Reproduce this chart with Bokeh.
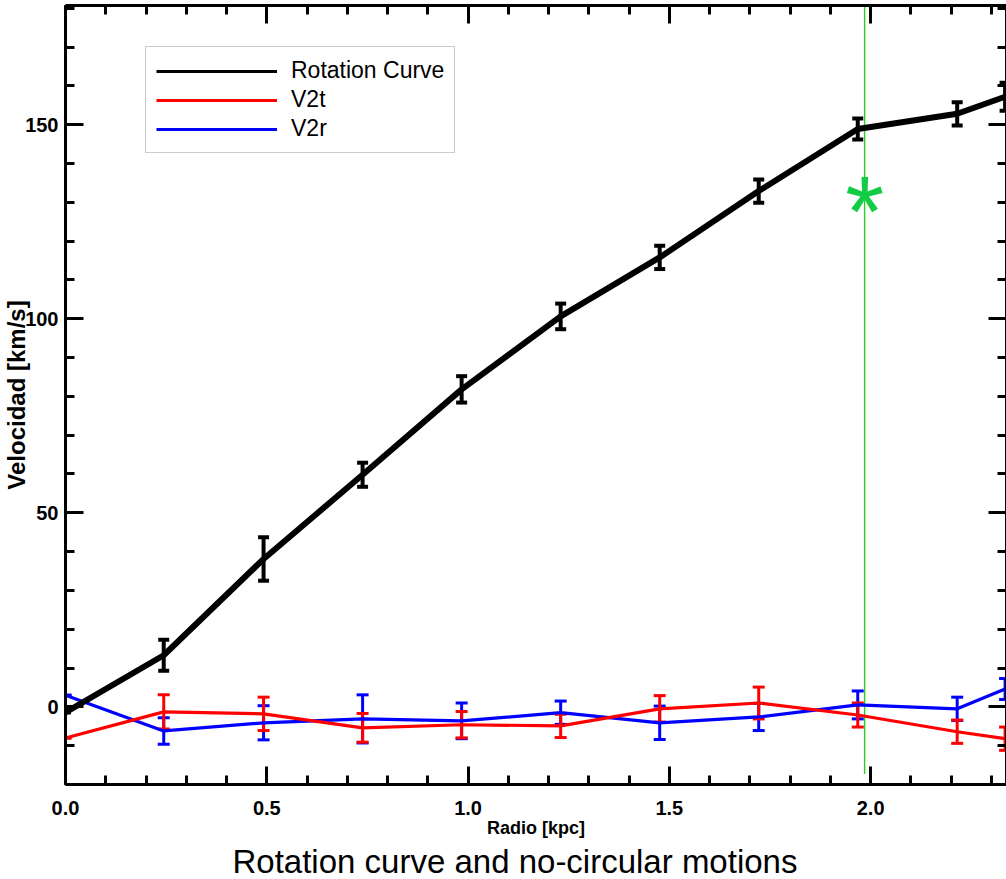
from bokeh.plotting import figure
from bokeh.models import (ColumnDataSource, Whisker, TeeHead, LinearAxis, Range1d,
                          SingleIntervalTicker, PrintfTickFormatter, Title, Legend, LegendItem,
                          CustomJSTickFormatter)
from bokeh.core.properties import value
from bokeh.embed import file_html
from bokeh.resources import INLINE

# ---------------- data ----------------
radius = [0.0, 0.244, 0.492, 0.738, 0.984, 1.230, 1.476, 1.722, 1.968, 2.215, 2.334]
rot_curve = [-1.4, 13.3, 38.1, 59.8, 81.8, 100.6, 115.8, 132.9, 148.9, 152.8, 157.2]
rot_err = [0.0, 4.0, 5.6, 3.1, 3.4, 3.3, 3.0, 3.0, 2.7, 3.0, 3.6]
v2t = [-8.0, -1.3, -1.8, -5.4, -4.6, -4.9, -0.5, 1.0, -2.1, -6.4, -8.2]
v2t_err = [0.0, 4.4, 4.3, 3.7, 3.4, 3.0, 3.4, 4.1, 3.1, 3.0, 3.0]
v2r = [3.0, -6.2, -4.1, -3.1, -3.6, -1.5, -4.1, -2.6, 0.5, -0.5, 4.6]
v2r_err = [0.0, 3.4, 4.4, 6.2, 4.6, 3.0, 4.3, 3.5, 3.6, 3.0, 2.7]

marker_line_x = [1.985, 1.985]
marker_line_y = [-17.3, 190.0]
star_x = [1.985]
star_y = [131.0]

series_names = ["Rotation Curve", "V2t", "V2r"]
x_ticks_interval = 0.5
y_ticks_interval = 50

title_text = "Rotation curve and no-circular motions"
xlabel = "Radio [kpc]"
ylabel = "Velocidad [km/s]"

# ---------------- figure ----------------
p = figure(width=1006, height=879, output_backend="svg", toolbar_location=None,
           x_range=Range1d(0.0, 2.3375), y_range=Range1d(-20.0, 180.7),
           min_border_left=0, min_border_right=0, min_border_top=5, min_border_bottom=0,
           title=None)
p.outline_line_color = None
p.grid.visible = False
p.background_fill_color = "white"
p.border_fill_color = "white"

def style_axis(ax, labels=True):
    ax.axis_line_width = 3
    ax.axis_line_color = "black"
    ax.major_tick_in = 18
    ax.major_tick_out = 0
    ax.minor_tick_in = 9
    ax.minor_tick_out = 0
    ax.major_tick_line_width = 3
    ax.minor_tick_line_width = 3
    ax.major_tick_line_color = "black"
    ax.minor_tick_line_color = "black"
    if labels:
        ax.major_label_text_font = "Liberation Sans"
        ax.major_label_text_font_style = "bold"
        ax.major_label_text_font_size = "20px"
        ax.major_label_text_color = "black"
        ax.axis_label_text_font = "Liberation Sans"
        ax.axis_label_text_font_style = "bold"
        ax.axis_label_text_font_size = "18px"
        ax.axis_label_text_color = "black"
    else:
        ax.formatter = CustomJSTickFormatter(code="return '';")
        ax.major_label_standoff = 0

p.xaxis.ticker = SingleIntervalTicker(interval=x_ticks_interval, num_minor_ticks=5)
p.xaxis.formatter = PrintfTickFormatter(format="%.1f")
p.xaxis.axis_label = xlabel
p.yaxis.ticker = SingleIntervalTicker(interval=y_ticks_interval, num_minor_ticks=5)
p.yaxis.axis_label = ylabel
for ax in p.xaxis:
    style_axis(ax)
    ax.major_label_standoff = 16
    ax.axis_label_standoff = 0
for ax in p.yaxis:
    style_axis(ax)
    ax.major_label_standoff = 7
    ax.axis_label_standoff = -8
    ax.axis_label_text_font_size = "24px"

top_ax = LinearAxis(ticker=SingleIntervalTicker(interval=x_ticks_interval, num_minor_ticks=5))
style_axis(top_ax, labels=False)
p.add_layout(top_ax, "above")
right_ax = LinearAxis(ticker=SingleIntervalTicker(interval=y_ticks_interval, num_minor_ticks=5))
style_axis(right_ax, labels=False)
p.add_layout(right_ax, "right")

# ---------------- data glyphs ----------------
def src(y, e):
    return ColumnDataSource(dict(x=radius, y=y,
                                 lo=[a - b for a, b in zip(y, e)],
                                 hi=[a + b for a, b in zip(y, e)]))

s_rot = src(rot_curve, rot_err)
s_t = src(v2t, v2t_err)
s_r = src(v2r, v2r_err)

def add_err(s, color, width, cap):
    w = Whisker(source=s, base="x", upper="hi", lower="lo", line_color=color, line_width=width,
                upper_head=TeeHead(size=cap, line_color=color, line_width=width),
                lower_head=TeeHead(size=cap, line_color=color, line_width=width))
    p.add_layout(w)

# green marker line
p.line(marker_line_x, marker_line_y, line_color="#22d222", line_width=1.4)

l_r = p.line("x", "y", source=s_r, line_color="#0000ff", line_width=3.2)
add_err(s_r, "#0000ff", 3, 12)
l_t = p.line("x", "y", source=s_t, line_color="#ff0000", line_width=3.2)
add_err(s_t, "#ff0000", 3, 12)
# thin copy (used by the legend), covered by the thick curve
l_rot_thin = p.line("x", "y", source=s_rot, line_color="black", line_width=3)
p.line("x", "y", source=s_rot, line_color="black", line_width=6)
add_err(s_rot, "black", 4, 11)

p.text(x=star_x, y=star_y, text=["*"], text_font=value("Liberation Sans"),
       text_font_size="100px", text_color="#11cc44", text_align="center",
       text_baseline="middle", y_offset=13)

# ---------------- legend ----------------
leg = Legend(items=[LegendItem(label=series_names[0], renderers=[l_rot_thin]),
                    LegendItem(label=series_names[1], renderers=[l_t]),
                    LegendItem(label=series_names[2], renderers=[l_r])],
             location=(80, 631))
leg.label_text_font = "Liberation Sans"
leg.label_text_font_size = "23px"
leg.label_text_color = "black"
leg.glyph_width = 121
leg.glyph_height = 24
leg.spacing = 2
leg.padding = 10
leg.margin = 0
leg.label_standoff = 14
leg.border_line_color = "#999999"
leg.border_line_width = 1
leg.background_fill_color = "white"
leg.background_fill_alpha = 1
p.add_layout(leg, "center")

# ---------------- title below ----------------
t = Title(text=title_text, align="left", offset=167, standoff=0,
          text_font="Liberation Sans",
          text_font_size="33px", text_font_style="normal", text_color="black")
p.add_layout(t, "below")

open("out.html", "w").write(file_html(p, INLINE))
